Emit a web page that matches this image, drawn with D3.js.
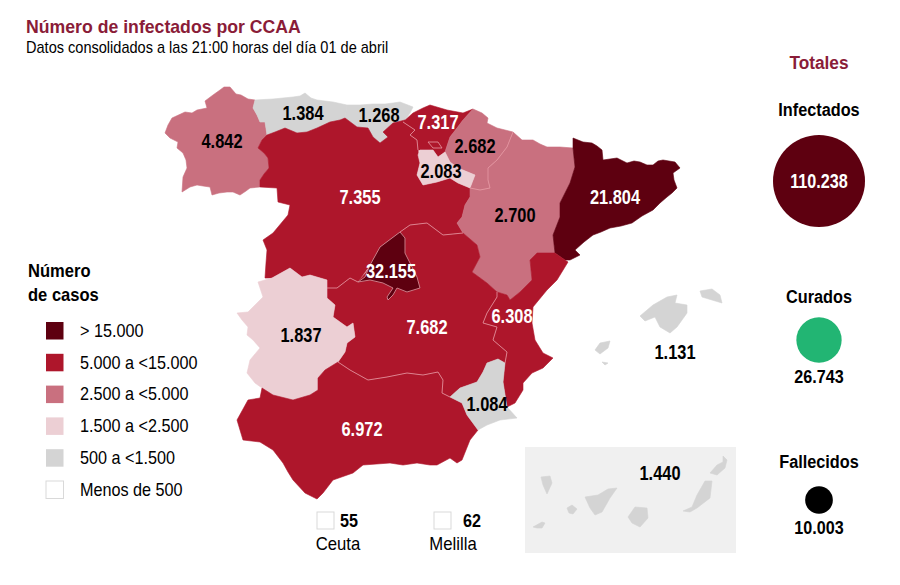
<!DOCTYPE html>
<html>
<head>
<meta charset="utf-8">
<script src="https://cdn.jsdelivr.net/npm/d3@7"></script>
<style>
  html, body { margin: 0; background: #fff; }
  text { font-family: "Liberation Sans", Arial, sans-serif; }
</style>
</head>
<body>
<div id="chart"></div>
<script>
// --- data: cases per region
const regionNames = ['Galicia', 'Asturias', 'Cantabria', 'Castilla y León', 'País Vasco', 'Navarra', 'La Rioja',
  'Aragón', 'Cataluña', 'Castilla-La Mancha', 'Madrid', 'C. Valenciana', 'Extremadura', 'Andalucía', 'Murcia',
  'Baleares', 'Canarias'];
const regionValues = [4842, 1384, 1268, 7355, 7317, 2682, 2083, 2700, 21804, 7682, 32155, 6308, 1837, 6972, 1084, 1131, 1440];

const cityNames = ['Ceuta', 'Melilla'];
const cityValues = [55, 62];

const legendBreaks = [500, 1500, 2500, 5000, 15000];
const legendColors = ['#ffffff', '#d4d4d4', '#eccfd4', '#c9707f', '#ae162b', '#5e0010'];
const legendLabels = ['> 15.000', '5.000 a <15.000', '2.500 a <5.000', '1.500 a <2.500', '500 a <1.500', 'Menos de 500'];

const totalNames = ['Infectados', 'Curados', 'Fallecidos'];
const totalValues = [110238, 26743, 10003];
const totalColors = ['#5e0010', '#22b573', '#000000'];

// --- outlines, in map units
const outlines = {
  'Galicia': [[[165,133],[168,125],[172,118],[185,112],[192,113],[197,110],[207,108],[205,101],[213,95],[220,90],[224,87],[230,87],[236,94],[241,95],[248,99],[255,100],[253,108],[257,115],[260,122],[265,122],[267,135],[262,140],[258,148],[264,153],[268,158],[269,168],[264,174],[260,180],[260,187],[250,188],[246,191],[240,195],[233,192],[227,192],[219,193],[212,195],[210,187],[203,186],[197,185],[190,187],[182,192],[183,177],[187,168],[186,160],[183,153],[177,148],[178,142],[170,138]]],
  'Asturias': [[[255,100],[273,99],[283,98],[293,97],[300,96],[305,93],[311,98],[317,100],[325,101],[333,102],[347,105],[345,118],[340,120],[330,122],[317,128],[307,132],[297,133],[285,128],[275,132],[267,135],[265,122],[260,122],[257,115],[253,108]]],
  'Cantabria': [[[347,105],[360,105],[373,104],[385,104],[393,103],[400,102],[413,107],[410,113],[405,120],[393,123],[383,132],[388,137],[380,143],[373,137],[368,128],[357,127],[345,118]]],
  'Castilla y León': [[[267,135],[275,132],[285,128],[297,133],[307,132],[317,128],[330,122],[340,120],[345,118],[357,127],[368,128],[373,137],[380,143],[388,137],[383,132],[393,123],[405,120],[403,122],[415,130],[410,135],[417,140],[418,150],[420,163],[417,175],[423,185],[437,182],[450,178],[458,183],[470,188],[470,197],[465,205],[462,217],[457,223],[463,233],[443,235],[427,223],[410,225],[400,232],[380,247],[370,265],[358,282],[350,278],[337,288],[327,288],[327,280],[310,275],[302,277],[290,268],[272,278],[265,278],[266,263],[267,250],[263,240],[273,233],[288,215],[290,205],[278,202],[277,188],[260,187],[260,180],[264,174],[269,168],[268,158],[264,153],[258,148],[262,140]]],
  'País Vasco': [[[403,122],[413,113],[423,108],[430,105],[447,110],[463,113],[473,109],[463,120],[457,128],[450,137],[445,152],[438,157],[433,150],[418,150],[417,140],[410,135],[415,130]]],
  'Navarra': [[[473,109],[482,113],[488,118],[487,123],[497,128],[513,132],[507,147],[497,160],[488,168],[488,180],[490,188],[480,190],[470,188],[475,175],[458,168],[450,162],[445,152],[450,137],[457,128],[463,120]]],
  'La Rioja': [[[418,155],[420,150],[433,150],[438,157],[445,152],[450,162],[458,168],[475,175],[470,188],[458,183],[450,178],[437,182],[423,185],[417,175],[420,163]]],
  'Aragón': [[[513,132],[522,140],[533,140],[540,144],[547,147],[560,147],[573,148],[575,167],[570,183],[560,203],[560,217],[553,235],[555,253],[537,253],[530,260],[532,280],[520,292],[510,300],[507,295],[497,292],[487,283],[472,272],[480,257],[477,245],[463,233],[457,223],[462,217],[465,205],[470,197],[470,188],[480,190],[490,188],[488,180],[488,168],[497,160],[507,147]]],
  'Cataluña': [[[573,138],[578,140],[583,142],[592,143],[597,146],[602,150],[603,160],[610,159],[617,158],[627,163],[634,161],[640,162],[647,165],[653,165],[658,161],[663,160],[669,161],[675,162],[680,168],[673,173],[674,180],[677,188],[672,193],[667,197],[660,203],[653,210],[642,216],[632,223],[621,226],[610,228],[601,232],[593,235],[584,242],[575,250],[580,255],[570,260],[565,260],[555,253],[553,235],[560,217],[560,203],[570,183],[575,167],[573,148]]],
  'Castilla-La Mancha': [[[327,288],[337,288],[350,278],[358,282],[400,232],[410,225],[427,223],[443,235],[463,233],[477,245],[480,257],[472,272],[487,283],[497,292],[497,297],[487,313],[483,323],[497,327],[493,340],[507,352],[505,363],[498,359],[487,363],[483,372],[477,382],[460,388],[450,397],[442,393],[443,380],[438,372],[423,375],[407,373],[387,377],[368,380],[350,370],[338,362],[345,352],[347,343],[355,337],[353,323],[347,327],[333,317],[335,305],[327,298]]],
  'Madrid': [[[358,282],[365,277],[370,265],[380,247],[400,232],[405,238],[405,253],[412,267],[417,277],[420,288],[407,292],[397,288],[393,295],[388,300],[387,297],[393,288],[383,283],[370,280]]],
  'C. Valenciana': [[[555,253],[565,260],[568,262],[557,280],[547,290],[533,307],[532,323],[535,340],[543,353],[553,358],[543,368],[532,373],[523,383],[523,390],[515,403],[507,407],[503,382],[505,363],[507,352],[493,340],[497,327],[483,323],[487,313],[497,297],[497,292],[507,295],[510,300],[520,292],[532,280],[530,260],[537,253]]],
  'Extremadura': [[[237,313],[248,312],[263,297],[258,282],[272,278],[290,268],[302,277],[310,275],[327,280],[327,298],[335,305],[333,317],[347,327],[353,323],[355,337],[347,343],[345,352],[338,362],[325,370],[318,378],[318,390],[310,395],[293,400],[273,395],[262,388],[255,383],[247,373],[250,360],[260,348],[253,340],[247,335],[248,327],[242,320]]],
  'Andalucía': [[[237,420],[248,400],[260,398],[262,388],[273,395],[293,400],[310,395],[318,390],[318,378],[325,370],[338,362],[350,370],[368,380],[387,377],[407,373],[423,375],[438,372],[443,380],[442,393],[450,397],[462,403],[467,415],[478,430],[470,440],[462,460],[457,463],[450,458],[437,465],[430,465],[417,463],[403,465],[390,463],[363,465],[353,473],[333,480],[323,493],[317,499],[305,493],[293,480],[288,472],[283,463],[273,450],[260,442],[243,440]]],
  'Murcia': [[[450,397],[460,388],[477,382],[483,372],[487,363],[498,359],[505,363],[503,382],[507,407],[517,418],[500,420],[487,425],[478,430],[467,415],[462,403]]],
  'Baleares': [
    [[640,316],[653,305],[667,297],[677,295],[675,303],[687,305],[687,313],[677,327],[670,333],[660,327],[655,317],[645,321]],
    [[700,291],[712,289],[720,295],[722,303],[712,300],[702,297]],
    [[595,350],[600,343],[610,341],[608,348],[600,354]],
    [[602,362],[608,363],[605,365]]
  ],
  'Canarias': [
    [[541,477],[550,476],[552,483],[547,494],[543,485]],
    [[533,527],[542,522],[545,523],[542,528],[537,528]],
    [[567,508],[572,505],[577,509],[573,514],[569,513]],
    [[585,497],[598,495],[608,489],[617,488],[610,498],[602,512],[595,515],[590,508]],
    [[635,507],[647,508],[648,518],[640,527],[632,523],[628,517]],
    [[705,481],[712,481],[710,498],[697,508],[690,512],[683,511],[692,507],[697,495]],
    [[710,473],[717,465],[723,462],[723,456],[727,460],[725,468],[717,475]]
  ]
};
const trevinoOutline = [[428,142],[438,142],[442,148],[433,148]];

// label centres, same order as regionNames
const labelCentres = [[222,141],[303,113],[379,115],[360,197],[438,122],[475,146],[441,171],[515,215],[615,197],[427,327],[391,271],[512,316],[301,335],[362,429],[487,404],[675,352],[660,473]];

const numFmt = d3.formatLocale({ decimal: ',', thousands: '.', grouping: [3], currency: ['', ''] }).format(',d');
const color = d3.scaleThreshold().domain(legendBreaks).range(legendColors);
const radius = d3.scaleSqrt().domain([0, totalValues[0]]).range([0, 46]);
const legendY = d3.scalePoint().domain(legendLabels).range([331, 490]);
const totalY = d3.scaleOrdinal().domain(totalNames).range([181, 340, 500]);

const svg = d3.select('#chart').append('svg').attr('width', 900).attr('height', 585);

// text squeezed a bit sideways, the original artwork is condensed
function label(parent, str, x, y, size, opts) {
  opts = opts || {};
  return parent.append('text')
    .attr('transform', `translate(${x},${y}) scale(${opts.sx || 0.9},1)`)
    .attr('text-anchor', opts.anchor || 'start')
    .attr('dominant-baseline', 'central')
    .attr('font-size', size)
    .attr('font-weight', opts.bold ? 700 : 400)
    .attr('fill', opts.fill || '#000')
    .text(str);
}

label(svg, 'Número de infectados por CCAA', 26, 27, 17.5, { bold: true, fill: '#8a1c38', sx: 1.01 });
label(svg, 'Datos consolidados a las 21:00 horas del día 01 de abril', 26, 47, 16, { sx: 0.91 });

// --- map
const path = d3.geoPath(d3.geoIdentity());
const features = regionNames.map((name, i) => ({
  type: 'Feature',
  properties: { name, value: regionValues[i] },
  geometry: { type: 'MultiPolygon', coordinates: outlines[name].map(ring => [ring.concat([ring[0]])]) }
}));

svg.append('rect')
  .attr('x', 525).attr('y', 447).attr('width', 211).attr('height', 106)
  .attr('fill', '#f0f0f0');

svg.append('g').selectAll('path').data(features).join('path')
  .attr('d', path)
  .attr('fill', d => color(d.properties.value))
  .attr('stroke', d => color(d.properties.value))
  .attr('stroke-width', 0.6)
  .attr('stroke-linejoin', 'round');

// inner borders: edges two regions of the same class have in common
const edgeOwners = new Map();
features.forEach(f => {
  f.geometry.coordinates.forEach(poly => d3.pairs(poly[0]).forEach(([a, b]) => {
    const key = [a.join(), b.join()].sort().join('|');
    if (!edgeOwners.has(key)) edgeOwners.set(key, { seg: [a, b], classes: [] });
    edgeOwners.get(key).classes.push(color(f.properties.value));
  }));
});
const innerEdges = Array.from(edgeOwners.values())
  .filter(e => e.classes.length === 2 && e.classes[0] === e.classes[1] && e.classes[0] !== legendColors[1])
  .map(e => e.seg);

svg.append('path')
  .datum({ type: 'MultiLineString', coordinates: innerEdges })
  .attr('d', path)
  .attr('fill', 'none')
  .attr('stroke', '#e79aa5')
  .attr('stroke-width', 0.8);

// Madrid and the Treviño enclave get a pale edge all round
svg.append('path')
  .datum({ type: 'MultiLineString', coordinates: [outlines['Madrid'][0].concat([outlines['Madrid'][0][0]]), trevinoOutline.concat([trevinoOutline[0]])] })
  .attr('d', path)
  .attr('fill', 'none')
  .attr('stroke', '#e79aa5')
  .attr('stroke-width', 0.8);

regionNames.forEach((name, i) => {
  label(svg, numFmt(regionValues[i]), labelCentres[i][0], labelCentres[i][1], 20.5, {
    bold: true, anchor: 'middle', fill: regionValues[i] > 5000 ? '#fff' : '#000', sx: 0.8
  });
});

// --- Ceuta and Melilla
const cityX = d3.scalePoint().domain(cityNames).range([317, 434]);
cityNames.forEach((name, i) => {
  const x = cityX(name);
  svg.append('rect').attr('x', x).attr('y', 512).attr('width', 17).attr('height', 17)
    .attr('fill', color(cityValues[i])).attr('stroke', '#d9d9d9');
  label(svg, cityValues[i], x + (i ? 38 : 32), 521, 19, { bold: true, anchor: 'middle', sx: 0.85 });
  label(svg, name, x + (i ? 19 : 21), 544, 18, { anchor: 'middle', sx: 0.93 });
});

// --- legend
label(svg, 'Número', 28, 271, 18, { bold: true, sx: 0.92 });
label(svg, 'de casos', 28, 295, 18, { bold: true, sx: 0.92 });
legendLabels.forEach((txt, i) => {
  const y = legendY(txt);
  svg.append('rect').attr('x', 46).attr('y', y - 9).attr('width', 17.5).attr('height', 17.5)
    .attr('fill', legendColors[legendColors.length - 1 - i])
    .attr('stroke', i === 5 ? '#d9d9d9' : 'none');
  label(svg, txt, 80, y, 18);
});

// --- totals
label(svg, 'Totales', 819, 63, 18, { bold: true, anchor: 'middle', fill: '#8a1c38', sx: 0.96 });
totalNames.forEach((name, i) => {
  const cy = totalY(name);
  const r = radius(totalValues[i]);
  svg.append('circle').attr('cx', 819).attr('cy', cy).attr('r', r).attr('fill', totalColors[i]);
  label(svg, name, 819, cy - (i === 0 ? 71 : i === 1 ? 43 : 38), 18.5, { bold: true, anchor: 'middle', sx: 0.88 });
  if (i === 0) label(svg, numFmt(totalValues[i]), 819, cy, 20, { bold: true, anchor: 'middle', fill: '#fff', sx: 0.81 });
  else label(svg, numFmt(totalValues[i]), 819, cy + (i === 1 ? 37 : 28), 19, { bold: true, anchor: 'middle', sx: 0.85 });
});
</script>
</body>
</html>
